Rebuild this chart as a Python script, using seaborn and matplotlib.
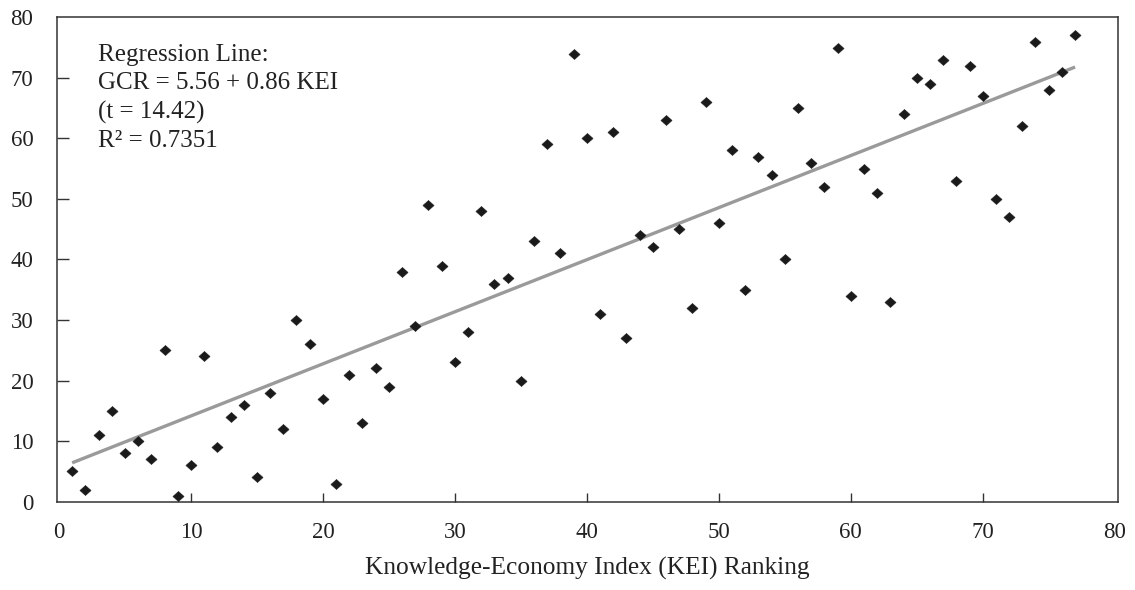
import matplotlib
matplotlib.use("Agg")
import matplotlib.pyplot as plt
from matplotlib.path import Path
from matplotlib.markers import MarkerStyle
import numpy as np
import pandas as pd
import seaborn as sns

# Knowledge-Economy Index ranking (x) and Global Competitiveness ranking (y)
kei_rank = [1, 2, 3, 4, 5, 6, 7, 8, 9, 10, 11, 12, 13, 14, 15, 16, 17, 18, 19, 20,
            21, 22, 23, 24, 25, 26, 27, 28, 29, 30, 31, 32, 33, 34, 35, 36, 37, 38, 39, 40,
            41, 42, 43, 44, 45, 46, 47, 48, 49, 50, 51, 52, 53, 54, 55, 56, 57, 58, 59, 60,
            61, 62, 63, 64, 65, 66, 67, 68, 69, 70, 71, 72, 73, 74, 75, 76, 77]
gcr_rank = [5, 2, 11, 15, 8, 10, 7, 25, 1, 6, 24, 9, 14, 16, 4, 18, 12, 30, 26, 17,
            3, 21, 13, 22, 19, 38, 29, 49, 39, 23, 28, 48, 36, 37, 20, 43, 59, 41, 74, 60,
            31, 61, 27, 44, 42, 63, 45, 32, 66, 46, 58, 35, 57, 54, 40, 65, 56, 52, 75, 34,
            55, 51, 33, 64, 70, 69, 73, 53, 72, 67, 50, 47, 62, 76, 68, 71, 77]

# Fitted regression coefficients
intercept = 5.56
slope = 0.86
t_stat = 14.42
r_squared = 0.7351

x_ticks = [0, 10, 20, 30, 40, 50, 60, 70, 80]
y_ticks = [0, 10, 20, 30, 40, 50, 60, 70, 80]
x_label = "Knowledge-Economy Index (KEI) Ranking"

sns.set_theme(style="white")
plt.rcParams["font.family"] = ["Liberation Serif", "DejaVu Serif"]
plt.rcParams["xtick.bottom"] = True
plt.rcParams["ytick.left"] = True

df = pd.DataFrame({"kei": kei_rank, "gcr": gcr_rank})
fit_x = np.array([min(kei_rank), max(kei_rank)], dtype=float)
fit = pd.DataFrame({"kei": fit_x, "gcr": intercept + slope * fit_x})

fig = plt.figure(figsize=(11.35, 5.90), dpi=100)
ax = fig.add_axes([0.0502, 0.1497, 0.9348, 0.821])

# regression line under the points
sns.lineplot(data=fit, x="kei", y="gcr", ax=ax, color="#9a9a9a", linewidth=2.4,
             solid_capstyle="butt", zorder=2)

# slightly flattened diamond marker
diamond = MarkerStyle(Path([(-1, 0), (0, 0.9), (1, 0), (0, -0.9), (-1, 0)],
                           [Path.MOVETO, Path.LINETO, Path.LINETO, Path.LINETO,
                            Path.CLOSEPOLY]))
sns.scatterplot(data=df, x="kei", y="gcr", ax=ax, marker=diamond, s=64,
                color="#1a1a1a", edgecolor="#1a1a1a", linewidth=0.4, zorder=3)

ax.set_xlim(-0.15, 80.25)
ax.set_ylim(0, 80)
ax.set_xticks(x_ticks)
ax.set_yticks(y_ticks)
ax.set_xticklabels([str(v) for v in x_ticks])
ax.set_yticklabels([str(v) for v in y_ticks])

text_color = "#222222"
ax.tick_params(axis="x", which="major", bottom=True, top=False, direction="in",
               length=6.7, width=1.0, color="#333333", pad=14.4,
               labelsize=16.5, labelcolor=text_color)
ax.tick_params(axis="y", which="major", left=True, right=False, direction="in",
               length=8.6, width=1.0, color="#333333", pad=17,
               labelsize=16.5, labelcolor=text_color)

# the end ticks fall on the frame, so only the inner ticks are drawn
for axis in (ax.xaxis, ax.yaxis):
    ticks = axis.get_major_ticks()
    for t in (ticks[0], ticks[-1]):
        t.tick1line.set_visible(False)

for side in ["left", "right", "top", "bottom"]:
    ax.spines[side].set_visible(True)
    ax.spines[side].set_color("#333333")
    ax.spines[side].set_linewidth(1.1)

ax.set_xlabel(x_label, fontsize=18.3, color=text_color, labelpad=10)
ax.set_ylabel("")

annotation = (
    "Regression Line:\n"
    f"GCR = {intercept:.2f} + {slope:.2f} KEI\n"
    f"(t = {t_stat:.2f})\n"
    f"R² = {r_squared:.4f}"
)
# baseline alignment anchors the last line of the block
ax.text(0.0382, 0.7329, annotation, transform=ax.transAxes, ha="left",
        va="baseline", fontsize=18, color=text_color, linespacing=1.355)

fig.savefig("out.png", dpi=100)
